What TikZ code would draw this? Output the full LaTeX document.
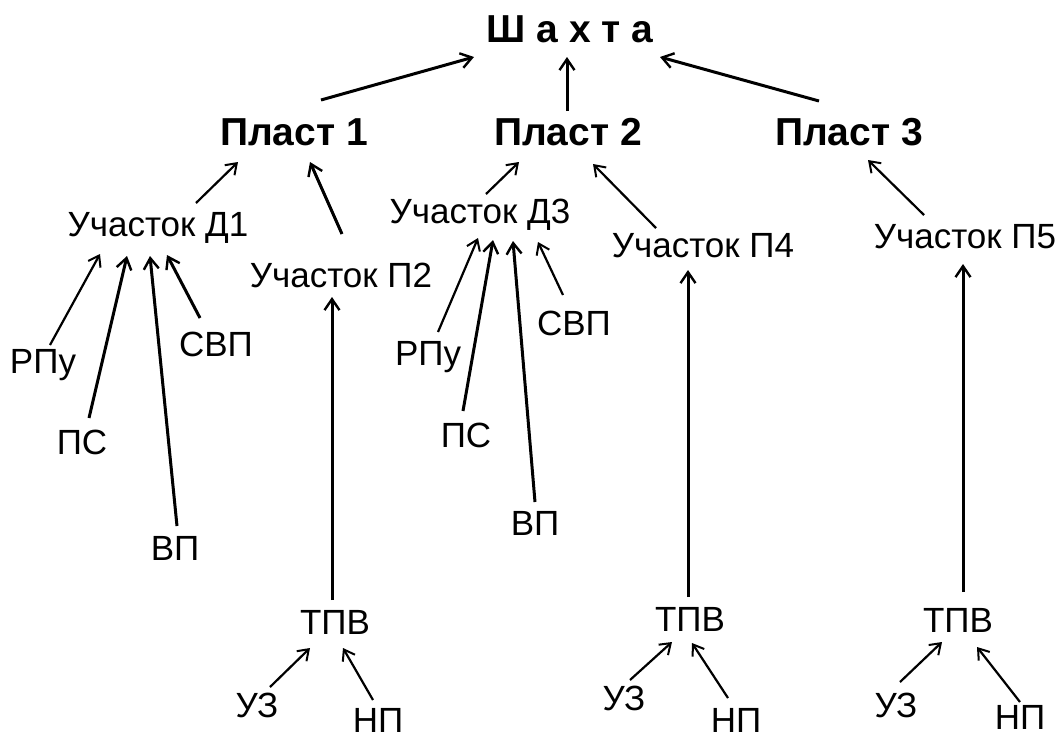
\documentclass[tikz,border=0pt]{standalone}
\usepackage{fontspec}
\setmainfont{Liberation Sans}
\usetikzlibrary{arrows.meta,calc}
\begin{document}
\begin{tikzpicture}[x=1pt,y=-1pt,
  lbl/.style={inner sep=0pt,font=\fontsize{35}{40}\selectfont,text height=25pt,text depth=0pt},
  big/.style={inner sep=0pt,font=\fontsize{39}{44}\selectfont\bfseries,text height=27.9pt,text depth=0pt},
  arr/.style={line width=2.2pt,-{Straight Barb[length=10pt,width=14pt,line width=2pt]}},
  tarr/.style={line width=3pt,-{Straight Barb[length=11pt,width=15pt,line width=2.4pt]}}]
\useasboundingbox (0,0) rectangle (1061,740);
% nodes
\node[big] (sh) at (570,29) {Ш а х т а};
\node[big] (p1) at (294,132) {Пласт 1};
\node[big] (p2) at (568,132) {Пласт 2};
\node[big] (p3) at (849,132) {Пласт 3};
\node[lbl] (d1) at (158,224) {Участок Д1};
\node[lbl] (u2) at (341,275) {Участок П2};
\node[lbl] (d3) at (480,211) {Участок Д3};
\node[lbl] (u4) at (703,245) {Участок П4};
\node[lbl] (u5) at (965,236) {Участок П5};
\node[lbl] (rA) at (43,361) {РПу};
\node[lbl] (psA) at (82,442) {ПС};
\node[lbl] (vA) at (175,548) {ВП};
\node[lbl] (sA) at (216,344) {СВП};
\node[lbl] (rB) at (428,353) {РПу};
\node[lbl] (psB) at (466,435) {ПС};
\node[lbl] (vB) at (535,523) {ВП};
\node[lbl] (sB) at (574,323) {СВП};
\node[lbl] (t2) at (335,622) {ТПВ};
\node[lbl] (t4) at (690,619) {ТПВ};
\node[lbl] (t5) at (958,620) {ТПВ};
\node[lbl] (z2) at (257,705) {УЗ};
\node[lbl] (n2) at (378,720) {НП};
\node[lbl] (z4) at (624,698) {УЗ};
\node[lbl] (n4) at (736,720) {НП};
\node[lbl] (z5) at (896,705) {УЗ};
\node[lbl] (n5) at (1020,717) {НП};
% connectors
\draw[tarr] ($(p1)+(27,-32)$) -- ($(sh)+(-96,28)$);
\draw[tarr] ($(p2)+(-1,-21)$) -- ($(sh)+(-3,28)$);
\draw[tarr] ($(p3)+(-30,-31)$) -- ($(sh)+(90,28)$);
\draw[arr] ($(d1)+(38,-21)$) -- ($(p1)+(-56,30)$);
\draw[tarr] ($(u2)+(1,-41)$) -- ($(p1)+(16,30)$);
\draw[arr] ($(d3)+(6,-17)$) -- ($(p2)+(-49,30)$);
\draw[arr] ($(u4)+(-47,-17)$) -- ($(p2)+(25,32)$);
\draw[arr] ($(u5)+(-41,-21)$) -- ($(p3)+(19,28)$);
\draw[arr] ($(rA)+(7,-16)$) -- ($(d1)+(-58,30)$);
\draw[tarr] ($(psA)+(7,-24)$) -- ($(d1)+(-31,32)$);
\draw[tarr] ($(vA)+(2,-22)$) -- ($(d1)+(-8,32)$);
\draw[tarr] ($(sA)+(-16,-26)$) -- ($(d1)+(9,31)$);
\draw[arr] ($(rB)+(10,-21)$) -- ($(d3)+(-2,27)$);
\draw[tarr] ($(psB)+(-3,-24)$) -- ($(d3)+(13,29)$);
\draw[tarr] ($(vB)+(0,-21)$) -- ($(d3)+(33,30)$);
\draw[arr] ($(sB)+(-11,-28)$) -- ($(d3)+(58,31)$);
\draw[tarr] ($(t2)+(-3,-22)$) -- ($(u2)+(-9,22)$);
\draw[tarr] ($(t4)+(-2,-22)$) -- ($(u4)+(-15,25)$);
\draw[tarr] ($(t5)+(5,-28)$) -- ($(u5)+(-2,28)$);
\draw[arr] ($(z2)+(13,-18)$) -- ($(t2)+(-25,26)$);
\draw[arr] ($(n2)+(-5,-20)$) -- ($(t2)+(8,26)$);
\draw[arr] ($(z4)+(6,-18)$) -- ($(t4)+(-18,23)$);
\draw[arr] ($(n4)+(-8,-22)$) -- ($(t4)+(2,24)$);
\draw[arr] ($(z5)+(4,-23)$) -- ($(t5)+(-16,22)$);
\draw[arr] ($(n5)+(0,-15)$) -- ($(t5)+(19,27)$);
\end{tikzpicture}
\end{document}
